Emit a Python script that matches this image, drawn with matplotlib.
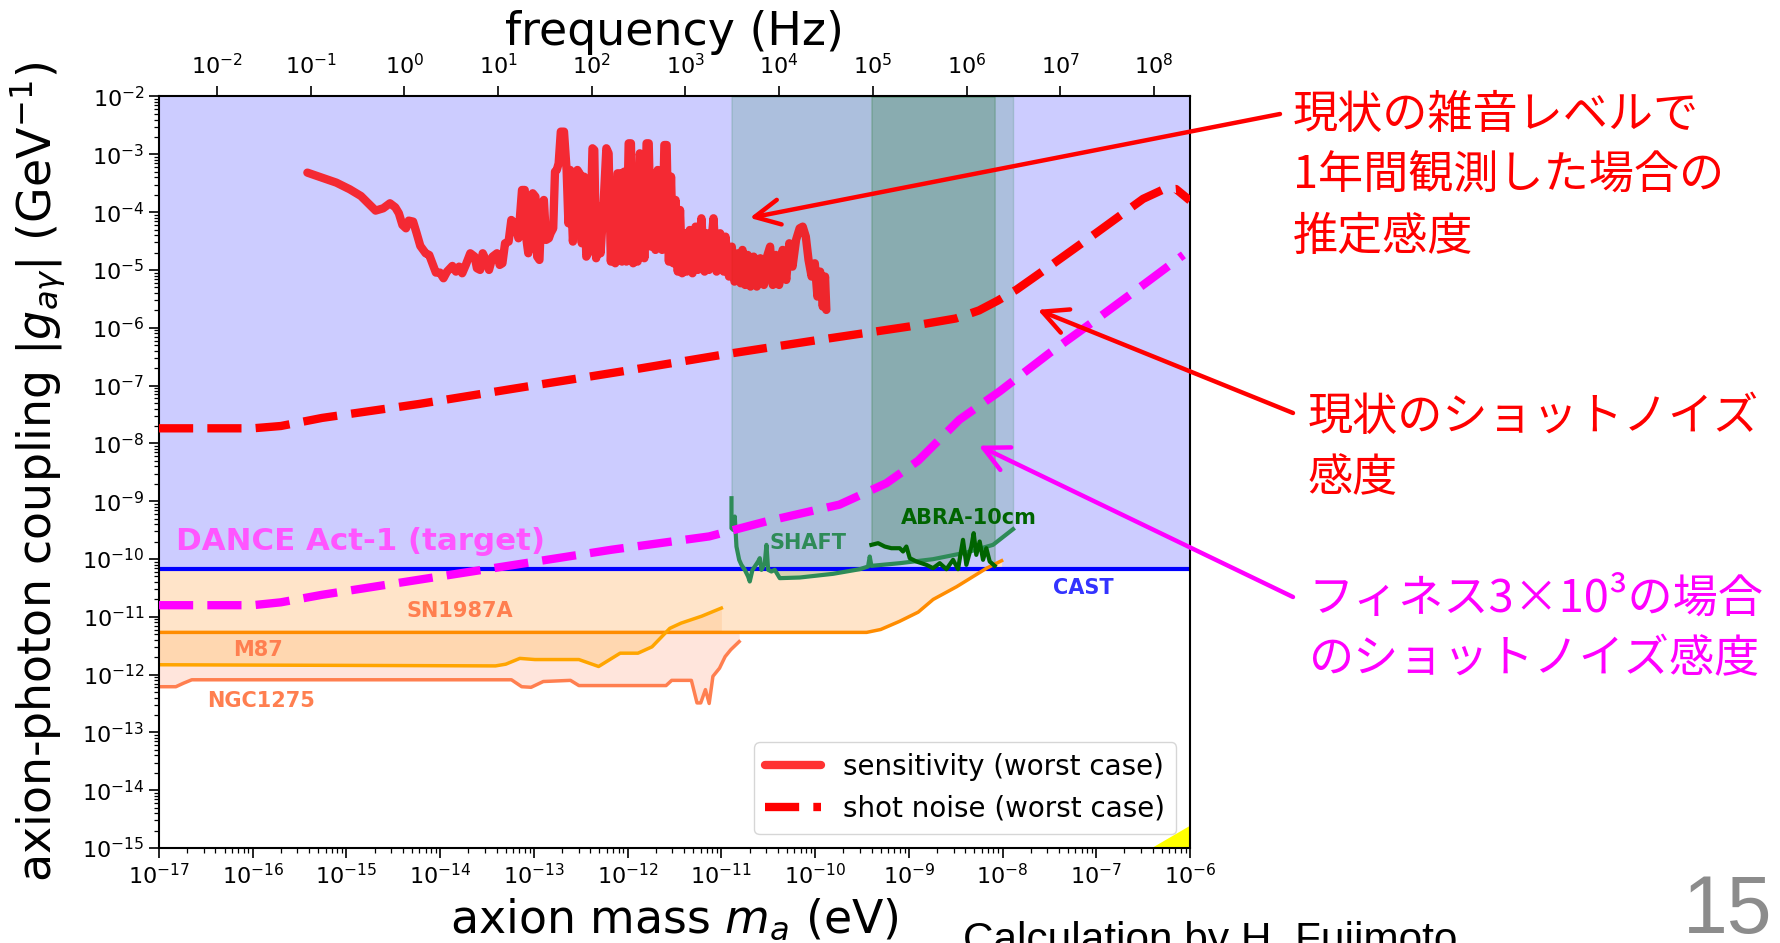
import numpy as np
import matplotlib
matplotlib.use("Agg")
import matplotlib.pyplot as plt
from matplotlib.ticker import LogLocator, NullLocator, NullFormatter

# ---------------- data: log10(mass / eV), log10(g / GeV^-1) ----------------
sens_logm = [
    -15.417, -15.108, -14.965, -14.846, -14.689, -14.608, -14.536, -14.479, -14.441, -14.403,
    -14.365, -14.336, -14.289, -14.251, -14.212, -14.155, -14.117, -14.084, -14.046, -14.003,
    -13.965, -13.927, -13.870, -13.832, -13.798, -13.765, -13.727, -13.679, -13.632, -13.608,
    -13.574, -13.546, -13.513, -13.479, -13.441, -13.394, -13.365, -13.336, -13.308, -13.270,
    -13.241, -13.203, -13.165, -13.146, -13.127, -13.098, -13.079, -13.060, -13.036, -13.013,
    -12.984, -12.965, -12.941, -12.917, -12.894, -12.870, -12.841, -12.822, -12.794, -12.775,
    -12.756, -12.736, -12.713, -12.679, -12.651, -12.632, -12.613, -12.584, -12.560, -12.536,
    -12.513, -12.489, -12.465, -12.441, -12.403, -12.375, -12.356, -12.336, -12.317, -12.289,
    -12.260, -12.227, -12.203, -12.179, -12.156, -12.132, -12.108, -12.084, -12.060, -12.037,
    -12.013, -11.989, -11.965, -11.941, -11.917, -11.894, -11.870, -11.846, -11.822, -11.798,
    -11.775, -11.751, -11.727, -11.703, -11.679, -11.656, -11.632, -11.608, -11.584, -11.560,
    -11.537, -11.513, -11.489, -11.465, -11.441, -11.418, -11.394, -11.370, -11.337, -11.308,
    -11.275, -11.251, -11.213, -11.179, -11.156, -11.132, -11.084, -11.051, -11.013, -10.975,
    -10.956, -10.918, -10.889, -10.860, -10.822, -10.794, -10.775, -10.746, -10.718, -10.689,
    -10.656, -10.622, -10.584, -10.546, -10.513, -10.480, -10.451, -10.418, -10.384, -10.346,
    -10.308, -10.275, -10.241, -10.203, -10.165, -10.132, -10.099, -10.070, -10.037, -10.003,
    -9.975, -9.946, -9.918, -9.894, -9.880,
]
sens_logg = [
    -3.317, -3.490, -3.605, -3.721, -3.974, -3.934, -3.847, -3.917, -4.020, -4.222,
    -4.280, -4.147, -4.164, -4.366, -4.585, -4.712, -4.741, -4.885, -5.046, -5.046,
    -5.144, -5.029, -4.931, -5.029, -4.943, -5.058, -4.914, -4.712, -4.770, -4.971,
    -5.000, -4.712, -4.827, -5.000, -4.770, -4.712, -4.914, -4.885, -4.539, -4.510,
    -4.136, -4.193, -4.453, -4.020, -3.617, -3.617, -4.481, -4.712, -4.424, -3.674,
    -3.732, -4.770, -4.827, -3.847, -3.790, -4.481, -4.453, -4.366, -4.280, -3.300,
    -3.271, -3.156, -2.608, -2.608, -3.271, -4.193, -3.271, -4.510, -4.020, -3.271,
    -3.329, -4.539, -3.386, -4.770, -4.654, -2.896, -2.925, -4.798, -3.905, -4.712,
    -3.963, -2.896, -2.983, -4.856, -3.963, -4.885, -3.329, -3.329, -4.856, -3.300,
    -4.856, -2.810, -2.810, -4.885, -3.329, -4.856, -2.983, -3.271, -4.798, -2.810,
    -2.810, -4.597, -3.329, -4.654, -3.271, -3.300, -4.654, -2.839, -2.839, -4.856,
    -3.386, -4.885, -3.790, -5.029, -3.963, -5.058, -4.366, -5.029, -4.309, -5.058,
    -4.251, -5.000, -4.107, -5.029, -4.366, -5.000, -4.107, -5.029, -4.366, -5.029,
    -4.424, -5.115, -4.597, -5.202, -4.712, -5.231, -4.654, -5.260, -4.741, -5.288,
    -4.770, -5.288, -4.798, -5.260, -4.770, -4.597, -5.260, -4.741, -5.260, -4.654,
    -5.173, -4.539, -4.943, -4.481, -4.280, -4.251, -4.424, -4.827, -5.115, -4.885,
    -5.461, -5.029, -5.634, -5.115, -5.692,
]

shot_logm = [-17.0, -16.0, -15.7, -15.26, -14.23, -13.2, -12.0, -11.0, -10.0, -9.0,
             -8.5, -8.25, -8.05, -7.85, -7.5, -7.0, -6.5, -6.3, -6.15, -6.0]
shot_logg = [-7.74, -7.74, -7.70, -7.56, -7.32, -7.05, -6.74, -6.47, -6.22, -5.98,
             -5.84, -5.70, -5.53, -5.34, -4.94, -4.36, -3.77, -3.62, -3.60, -3.80]

fin_logm = [-17.0, -16.0, -15.7, -15.26, -14.23, -13.2, -12.17, -11.13, -10.52,
            -9.74, -9.24, -8.9, -8.46, -8.03, -7.5, -6.96, -6.5, -6.07]
fin_logg = [-10.80, -10.80, -10.75, -10.62, -10.36, -10.10, -9.84, -9.61, -9.35,
            -9.06, -8.69, -8.30, -7.59, -7.10, -6.44, -5.81, -5.26, -4.74]

shaft_logm = [-10.892, -10.892, -10.874, -10.857, -10.839, -10.810, -10.786, -10.750,
              -10.715, -10.697, -10.668, -10.643, -10.608, -10.590, -10.572, -10.537,
              -10.519, -10.501, -10.466, -10.430, -10.377, -10.164, -9.808, -9.524,
              -9.435, -9.417, -9.399, -9.097, -8.742, -8.386, -8.102, -7.888]
shaft_logg = [-8.949, -9.468, -9.497, -9.266, -9.785, -10.015, -10.102, -10.188,
              -10.303, -10.390, -10.188, -10.130, -10.044, -9.986, -10.188, -10.073,
              -9.756, -10.188, -10.217, -10.188, -10.332, -10.321, -10.257, -10.177,
              -10.131, -9.958, -10.119, -10.073, -10.004, -9.888, -9.756, -9.485]

abra_logm = [-9.399, -9.328, -9.257, -9.186, -9.097, -9.062, -9.026, -8.990, -8.919,
             -8.813, -8.742, -8.670, -8.599, -8.528, -8.475, -8.422, -8.386, -8.333,
             -8.308, -8.280, -8.244, -8.208, -8.173, -8.137, -8.084]
abra_logg = [-9.756, -9.727, -9.785, -9.814, -9.814, -9.871, -9.785, -9.986, -10.044,
             -10.102, -10.159, -10.073, -10.177, -10.015, -10.177, -9.669, -10.102, -9.785,
             -9.554, -9.929, -9.698, -10.015, -9.814, -10.044, -10.119]

sn_logm = [-17.0, -9.45, -9.30, -9.10, -8.90, -8.74, -8.49, -8.17, -8.01]
sn_logg = [-11.27, -11.27, -11.22, -11.08, -10.92, -10.70, -10.48, -10.16, -10.03]

m87_logm = [-17.0, -13.41, -13.30, -13.15, -12.99, -12.52, -12.31, -12.08, -11.89,
            -11.74, -11.55, -11.43, -11.21, -11.00]
m87_logg = [-11.83, -11.85, -11.82, -11.72, -11.74, -11.74, -11.86, -11.63, -11.63,
            -11.52, -11.20, -11.11, -10.99, -10.85]

ngc_logm = [-17.0, -16.82, -16.74, -16.65, -13.24, -13.13, -13.03, -12.90, -12.61, -12.52,
            -11.59, -11.53, -11.32, -11.26, -11.22, -11.17, -11.13, -11.09, -11.02, -10.96,
            -10.90, -10.81]
ngc_logg = [-12.21, -12.21, -12.15, -12.09, -12.09, -12.21, -12.22, -12.12, -12.10, -12.19,
            -12.19, -12.10, -12.10, -12.49, -12.49, -12.26, -12.50, -12.03, -11.89, -11.69,
            -11.57, -11.43]

cast_g = 6.6e-11
qcd_m = [3.8e-7, 1.0e-6]
qcd_top = [1.0e-15, 2.5e-15]

freq_per_eV = 2.418e14          # f = m c^2 / h
x_lim = (1e-17, 1e-6)
y_lim = (1e-15, 1e-2)

# ---------------- figure ----------------
W, H = 1781, 943
fig = plt.figure(figsize=(W / 100, H / 100), dpi=100)
ax = fig.add_axes([159 / W, 1 - 848 / H, (1190 - 159) / W, (848 - 96.5) / H])
ax.set_xscale("log")
ax.set_yscale("log")
ax.set_xlim(*x_lim)
ax.set_ylim(*y_lim)


def arr(v):
    return 10.0 ** np.asarray(v)


sens_m, sens_g = arr(sens_logm), arr(sens_logg)
shot_m, shot_g = arr(shot_logm), arr(shot_logg)
fin_m, fin_g = arr(fin_logm), arr(fin_logg)
shaft_m, shaft_g = arr(shaft_logm), arr(shaft_logg)
abra_m, abra_g = arr(abra_logm), arr(abra_logg)
sn_m, sn_g = arr(sn_logm), arr(sn_logg)
m87_m, m87_g = arr(m87_logm), arr(m87_logg)
ngc_m, ngc_g = arr(ngc_logm), arr(ngc_logg)
sn_floor = sn_g[0]

# excluded regions
ax.fill_between(x_lim, cast_g, y_lim[1], color="#ccccff", lw=0, zorder=0.5)
ax.fill_between(ngc_m, ngc_g, sn_floor, color="#ffe5dc", lw=0, zorder=0.6)
ax.fill_between(sn_m, sn_g, cast_g, color="#ffe4c9", lw=0, zorder=0.7)
ax.fill_between(m87_m, m87_g, sn_floor, color="#ffd7b0", lw=0, zorder=0.8)
ax.fill_between(shaft_m, shaft_g, y_lim[1], color="seagreen", alpha=0.2, lw=1, zorder=0.9)
ax.fill_between(abra_m, abra_g, y_lim[1], color="darkgreen", alpha=0.2, lw=1, zorder=0.95)
ax.fill_between(qcd_m, 1e-17, qcd_top, color="yellow", lw=0, zorder=1.0)

# limit curves
ax.axhline(cast_g, color="blue", lw=3, zorder=2)
ax.plot(sn_m, sn_g, color="darkorange", lw=2.5, zorder=2)
ax.plot(m87_m, m87_g, color="orange", lw=2.5, zorder=2)
ax.plot(ngc_m, ngc_g, color="coral", lw=2.5, zorder=2)
ax.plot(shaft_m, shaft_g, color="seagreen", lw=3, zorder=2.2)
ax.plot(abra_m, abra_g, color="darkgreen", lw=3, zorder=2.2)

# DANCE curves
ax.plot(sens_m, sens_g, color="red", alpha=0.8, lw=6, solid_joinstyle="round",
        solid_capstyle="round", zorder=3, label="sensitivity (worst case)")
dash = (0, (4.1, 1.7))
ax.plot(shot_m, shot_g, color="red", lw=6, ls=dash, zorder=4,
        label="shot noise (worst case)")
ax.plot(fin_m, fin_g, color="magenta", lw=6, ls=dash, zorder=4)

# region labels
lab = dict(fontsize=15, fontweight="bold", va="center", ha="center", zorder=5)
ax.text(10 ** -13.79, 10 ** -10.90, "SN1987A", color="coral", **lab)
ax.text(10 ** -15.94, 10 ** -11.57, "M87", color="coral", **lab)
ax.text(10 ** -15.91, 10 ** -12.45, "NGC1275", color="coral", **lab)
ax.text(10 ** -10.08, 10 ** -9.72, "SHAFT", color="seagreen", **lab)
ax.text(10 ** -8.36, 10 ** -9.29, "ABRA-10cm", color="darkgreen", **lab)
ax.text(10 ** -7.14, 10 ** -10.50, "CAST", color="#3333ff", **lab)
ax.text(10 ** -16.82, 10 ** -9.70, "DANCE Act-1 (target)", color="#ff55ff",
        fontsize=22.2, fontweight="bold", va="center", ha="left", zorder=5)

# axes styling
for s in ax.spines.values():
    s.set_linewidth(1.5)
ax.xaxis.set_major_locator(LogLocator(base=10, numticks=20))
ax.yaxis.set_major_locator(LogLocator(base=10, numticks=20))
for axis in (ax.xaxis, ax.yaxis):
    axis.set_minor_locator(LogLocator(base=10, subs=range(2, 10), numticks=200))
    axis.set_minor_formatter(NullFormatter())
ax.tick_params(which="major", length=7, width=1.2, labelsize=16)
ax.tick_params(which="minor", length=3.5, width=0.9)

ax.set_xlabel(r"axion mass $m_a$ (eV)", fontsize=33)
ax.xaxis.set_label_coords(0.5, -0.065)
ax.set_ylabel(r"axion-photon coupling $|g_{a\gamma}|$ (GeV$^{-1}$)", fontsize=33)
ax.yaxis.set_label_coords(-0.088, 0.5)

sec = ax.secondary_xaxis("top", functions=(lambda m: m * freq_per_eV,
                                           lambda f: f / freq_per_eV))
sec.xaxis.set_major_locator(LogLocator(base=10, numticks=20))
sec.xaxis.set_minor_locator(NullLocator())
sec.tick_params(which="major", length=7, width=1.2, labelsize=16, pad=6)
sec.set_xlabel("frequency (Hz)", fontsize=33, labelpad=6)

leg = ax.legend(loc="lower right", fontsize=20, handlelength=2.0,
                borderaxespad=0.5)
leg.set_zorder(10)

# annotations
jp = ["Noto Sans CJK JP", "DejaVu Sans"]
tip_noise = (10 ** -10.697, 10 ** -4.10)
tip_shot = (10 ** -7.625, 10 ** -5.69)
tip_fin = (10 ** -8.254, 10 ** -8.04)
arrow_red = dict(arrowstyle="->,head_length=0.6,head_width=0.3", color="red",
                 lw=3.2, mutation_scale=30, shrinkA=0, shrinkB=0)
arrow_mag = dict(arrow_red, color="magenta")
ax.annotate("", xy=tip_noise, xycoords="data", xytext=(1280 / W, 1 - 114 / H),
            textcoords="figure fraction", arrowprops=arrow_red, zorder=6)
ax.annotate("", xy=tip_shot, xycoords="data", xytext=(1293 / W, 1 - 413 / H),
            textcoords="figure fraction", arrowprops=arrow_red, zorder=6)
ax.annotate("", xy=tip_fin, xycoords="data", xytext=(1293 / W, 1 - 597 / H),
            textcoords="figure fraction", arrowprops=arrow_mag, zorder=6)

jp_kw = dict(fontsize=32.5, family=jp, va="center", ha="left", linespacing=1.42)
fig.text(1293 / W, 1 - 176 / H, "現状の雑音レベルで\n1年間観測した場合の\n推定感度",
         color="red", **jp_kw)
fig.text(1308 / W, 1 - 448 / H, "現状のショットノイズ\n感度", color="red", **jp_kw)
fig.text(1308 / W, 1 - 629 / H, "フィネス3×10³の場合\nのショットノイズ感度",
         color="magenta", **jp_kw)

fig.text(963 / W, 1 - 952 / H, "Calculation by H. Fujimoto", fontsize=30.5,
         family=["Liberation Sans", "DejaVu Sans"], va="baseline", ha="left", color="black")
fig.text(1772 / W, 1 - 933 / H, "15", fontsize=58,
         family=["Liberation Sans Narrow", "Liberation Sans", "DejaVu Sans"],
         va="baseline", ha="right", color="#8c8c8c")

fig.savefig("out.png", dpi=100)
